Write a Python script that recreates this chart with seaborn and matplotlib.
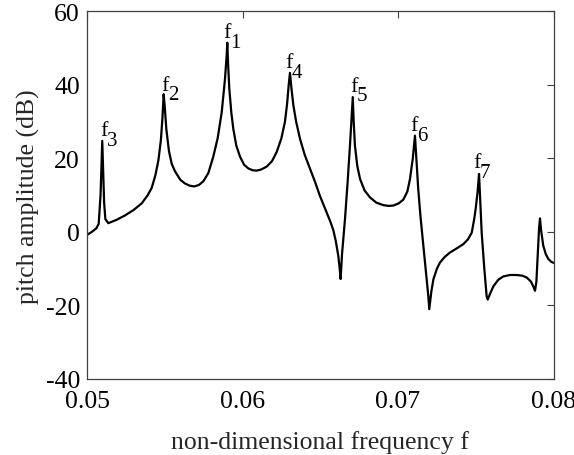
import numpy as np
import pandas as pd
import matplotlib
matplotlib.use("Agg")
import matplotlib.pyplot as plt
import seaborn as sns

# curve
freq = [
    0.05000, 0.05030, 0.05060, 0.05075, 0.05087, 0.05093, 0.05098, 0.05103,
    0.05110, 0.05118, 0.05137, 0.05190, 0.05244, 0.05300, 0.05352, 0.05390,
    0.05416, 0.05440, 0.05459, 0.05475, 0.05485, 0.05493, 0.05500, 0.05510,
    0.05527, 0.05545, 0.05566, 0.05600, 0.05630, 0.05660, 0.05690, 0.05720,
    0.05748, 0.05780, 0.05812, 0.05840, 0.05866, 0.05887, 0.05898, 0.05902,
    0.05907, 0.05915, 0.05928, 0.05941, 0.05960, 0.05984, 0.06010, 0.06037,
    0.06065, 0.06091, 0.06120, 0.06156, 0.06190, 0.06220, 0.06250, 0.06273,
    0.06287, 0.06297, 0.06305, 0.06315, 0.06327, 0.06345, 0.06370, 0.06400,
    0.06434, 0.06465, 0.06498, 0.06520, 0.06541, 0.06565, 0.06584, 0.06600,
    0.06616, 0.06625, 0.06631, 0.06640, 0.06659, 0.06675, 0.06691, 0.06702,
    0.06709, 0.06715, 0.06723, 0.06738, 0.06756, 0.06785, 0.06820, 0.06860,
    0.06906, 0.06940, 0.06970, 0.07005, 0.07034, 0.07060, 0.07077, 0.07095,
    0.07109, 0.07118, 0.07130, 0.07145, 0.07163, 0.07180, 0.07195, 0.07201,
    0.07215, 0.07228, 0.07250, 0.07270, 0.07300, 0.07334, 0.07380, 0.07420,
    0.07450, 0.07474, 0.07490, 0.07500, 0.07512, 0.07521, 0.07528, 0.07538,
    0.07555, 0.07570, 0.07577, 0.07590, 0.07613, 0.07645, 0.07677, 0.07720,
    0.07763, 0.07800, 0.07828, 0.07855, 0.07872, 0.07881, 0.07890, 0.07900,
    0.07907, 0.07913, 0.07920, 0.07934, 0.07950, 0.07966, 0.07985, 0.08000,
]
amp_db = [
    -0.8, 0.0, 1.0, 2.2, 10.0, 18.0, 24.8, 18.0,
    8.0, 3.5, 2.4, 3.3, 4.5, 6.0, 7.8, 10.0,
    12.0, 15.5, 19.5, 25.0, 31.0, 37.5, 34.0, 28.0,
    22.0, 18.5, 16.5, 14.2, 13.2, 12.6, 12.4, 12.8,
    13.8, 16.0, 20.5, 25.5, 32.5, 41.5, 48.0, 51.5,
    46.0, 39.0, 32.5, 28.0, 23.5, 20.5, 18.3, 17.3,
    16.8, 16.7, 17.0, 17.8, 19.3, 21.8, 25.5, 30.0,
    35.0, 40.0, 43.3, 39.0, 34.5, 30.0, 25.3, 21.0,
    17.2, 13.8, 9.8, 7.5, 5.3, 2.8, 0.5, -2.5,
    -6.5, -10.0, -12.8, -6.0, 3.5, 13.0, 23.5, 31.5,
    36.7, 30.0, 23.5, 18.0, 14.4, 11.3, 9.4, 8.0,
    7.3, 7.1, 7.2, 7.8, 8.8, 11.0, 14.4, 20.0,
    26.2, 20.0, 11.7, 4.0, -3.7, -11.0, -17.5, -21.0,
    -16.0, -12.8, -10.0, -8.3, -6.8, -5.6, -4.4, -3.3,
    -2.0, -0.2, 3.5, 6.5, 11.0, 15.8, 9.0, -0.1,
    -10.0, -17.5, -18.4, -17.0, -14.8, -13.0, -12.1, -11.7,
    -11.7, -11.9, -12.4, -13.5, -15.0, -16.0, -13.5, -5.0,
    1.0, 3.7, 0.5, -3.7, -6.0, -7.3, -8.1, -8.4,
]

# resonance labels: subscript, left edge of "f", baseline
peak_names = ["3", "2", "1", "4", "5", "6", "7"]
peak_x = [0.05084, 0.05476, 0.05877, 0.06273, 0.06691, 0.07077, 0.07484]
peak_y = [26.4, 38.7, 53.1, 44.8, 38.5, 27.8, 17.6]

df = pd.DataFrame({"f": freq, "amp": amp_db})

sns.set_theme(style="white")
plt.rcParams["font.family"] = ["Liberation Serif", "DejaVu Serif"]
plt.rcParams["axes.unicode_minus"] = False

fig = plt.figure(figsize=(5.74, 4.56), dpi=100)
ax = fig.add_axes([0.1516, 0.1667, 0.8127, 0.8059])

sns.lineplot(data=df, x="f", y="amp", ax=ax, color="black", linewidth=1.6,
             sort=False, estimator=None)

for name, px, py in zip(peak_names, peak_x, peak_y):
    ax.text(px, py, "f", fontsize=16, ha="left", va="baseline", color="black")
    ax.annotate(name, (px, py), xytext=(4.8, -7), textcoords="offset points",
                fontsize=15, ha="left", va="baseline", color="black")

ax.set_xlim(0.05, 0.08)
ax.set_ylim(-40, 60)
ax.set_xticks([0.05, 0.06, 0.07, 0.08])
ax.set_xticklabels(["0.05", "0.06", "0.07", "0.08"])
ax.set_yticks([-40, -20, 0, 20, 40, 60])
ax.tick_params(direction="in", length=5, width=0.8, top=True, right=True,
               labelsize=18.5, colors="#404040", labelcolor="black")
ax.tick_params(axis="x", pad=8)
ax.tick_params(axis="y", pad=5)
for sp in ax.spines.values():
    sp.set_color("#404040")
    sp.set_linewidth(0.9)

ax.set_xlabel("non-dimensional frequency f", fontsize=18.5, labelpad=13)
ax.set_ylabel("pitch amplitude (dB)", fontsize=18.5, labelpad=4)

fig.savefig("out.png", dpi=100)
